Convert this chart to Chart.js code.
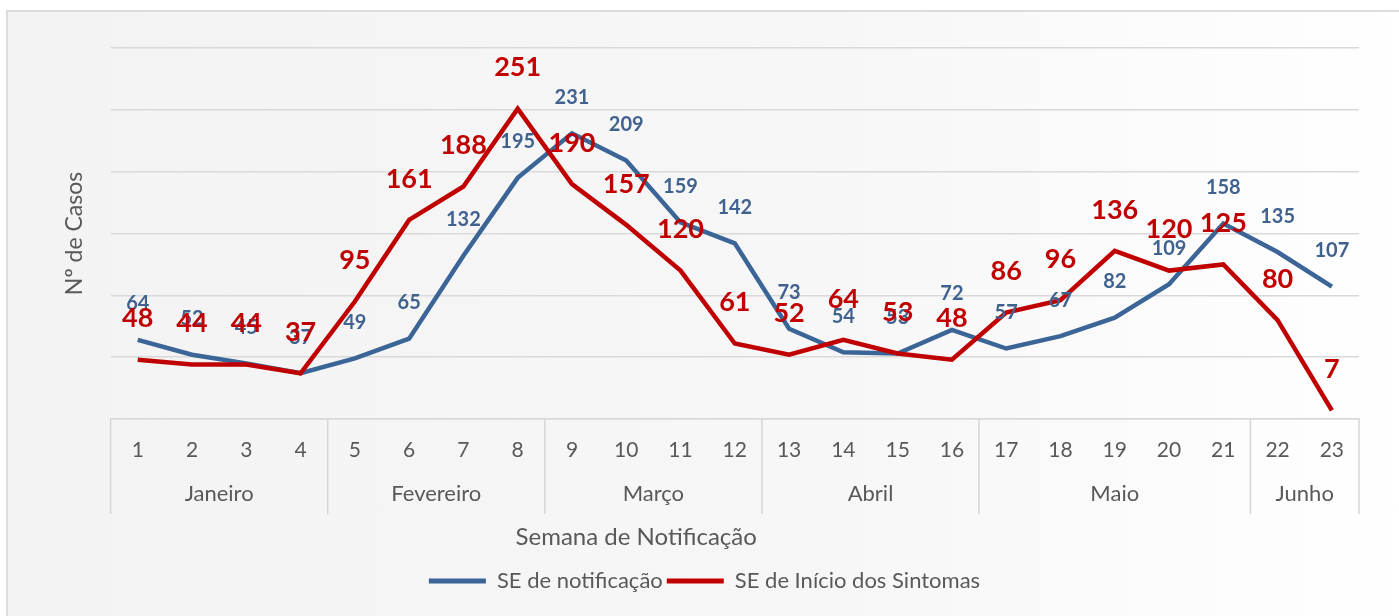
<!DOCTYPE html>
<html>
<head>
<meta charset="utf-8">
<script src="https://cdn.jsdelivr.net/npm/chart.js@4"></script>
<style>
  body { margin: 0; background: #fff; overflow: hidden; }
  #box {
    position: absolute; left: 6px; top: 10px; width: 1400px; height: 610px;
    background: linear-gradient(to right, #f3f3f3, #f7f7f7 60%, #ffffff);
    border-top: 2px solid #dcdcdc; border-left: 2px solid #dcdcdc;
  }
  #wrap { position: absolute; left: 0; top: 0; width: 1399px; height: 616px; }
</style>
</head>
<body>
<div id="box"></div>
<div id="wrap"><canvas id="casosChart" width="1399" height="616"></canvas></div>
<script>
// semanas epidemiológicas e meses
const weeks = ["1", "2", "3", "4", "5", "6", "7", "8", "9", "10", "11", "12",
               "13", "14", "15", "16", "17", "18", "19", "20", "21", "22", "23"];
const months = ["Janeiro", "Fevereiro", "Março", "Abril", "Maio", "Junho"];
const weeksPerMonth = [4, 4, 4, 4, 5, 2];

// séries
const seNotificacao = [64, 52, 45, 37, 49, 65, 132, 195, 231, 209, 159, 142,
                       73, 54, 53, 72, 57, 67, 82, 109, 158, 135, 107];
const seInicioSintomas = [48, 44, 44, 37, 95, 161, 188, 251, 190, 157, 120, 61,
                          52, 64, 53, 48, 86, 96, 136, 120, 125, 80, 7];

const BLUE = "#3b6497";
const BLUE_TXT = "#40628f";
const RED = "#c00000";
const GREY = "#595959";
const FONT = "Lato";

// rótulos de dados acima de cada ponto
const valueLabels = {
    id: "valueLabels",
    afterDatasetsDraw(chart) {
        const ctx = chart.ctx;
        const styles = [
            { font: "bold 20px " + FONT, color: BLUE_TXT, offset: 36 },
            { font: "bold 27px " + FONT, color: RED, offset: 41 }
        ];
        [0, 1].forEach(i => {
            const meta = chart.getDatasetMeta(i);
            const ds = chart.data.datasets[i];
            ctx.save();
            ctx.font = styles[i].font;
            ctx.fillStyle = styles[i].color;
            ctx.textAlign = "center";
            ctx.textBaseline = "middle";
            meta.data.forEach((pt, j) => {
                ctx.fillText(ds.data[j], pt.x, pt.y - styles[i].offset);
            });
            ctx.restore();
        });
    }
};

// linha de meses e título do eixo x
const monthAxis = {
    id: "monthAxis",
    afterDraw(chart) {
        const ctx = chart.ctx;
        const x = chart.scales.x;
        const area = chart.chartArea;
        const top = x.top;
        let edges = [area.left];
        let idx = 0;
        weeksPerMonth.forEach((n, k) => {
            idx += n;
            if (k < weeksPerMonth.length - 1) {
                edges.push((x.getPixelForValue(idx - 1) + x.getPixelForValue(idx)) / 2);
            } else {
                edges.push(area.right);
            }
        });
        ctx.save();
        ctx.strokeStyle = "#d6d6d6";
        ctx.lineWidth = 1.5;
        edges.forEach(ex => {
            ctx.beginPath();
            ctx.moveTo(ex, top);
            ctx.lineTo(ex, top + 95);
            ctx.stroke();
        });
        ctx.font = "22px " + FONT;
        ctx.fillStyle = GREY;
        ctx.textAlign = "center";
        ctx.textBaseline = "middle";
        months.forEach((m, k) => {
            ctx.fillText(m, (edges[k] + edges[k + 1]) / 2, top + 75);
        });
        ctx.font = "24px " + FONT;
        ctx.fillText("Semana de Notificação", area.left + (area.right - area.left) * 0.421, top + 118);
        ctx.restore();
    }
};

const ctx = document.getElementById("casosChart").getContext("2d");

new Chart(ctx, {
    type: "line",
    data: {
        labels: weeks,
        datasets: [
            {
                label: "SE de notificação",
                data: seNotificacao,
                borderColor: BLUE,
                backgroundColor: BLUE,
                borderWidth: 4.5,
                pointRadius: 0,
                tension: 0,
                order: 1
            },
            {
                label: "SE de Início dos Sintomas",
                data: seInicioSintomas,
                borderColor: RED,
                backgroundColor: RED,
                borderWidth: 4.5,
                pointRadius: 0,
                tension: 0,
                order: 0
            }
        ]
    },
    options: {
        responsive: false,
        animation: false,
        layout: {
            padding: { left: 50, right: 40, top: 48, bottom: 14 }
        },
        plugins: {
            tooltip: { enabled: false },
            legend: {
                position: "bottom",
                labels: {
                    color: GREY,
                    font: { family: FONT, size: 22 },
                    boxWidth: 57,
                    boxHeight: 5,
                    padding: 4,
                    sort: (a, b) => a.datasetIndex - b.datasetIndex,
                    generateLabels(chart) {
                        const items = Chart.defaults.plugins.legend.labels.generateLabels(chart);
                        items.forEach(it => { it.lineWidth = 0; });
                        return items;
                    }
                }
            }
        },
        scales: {
            x: {
                offset: true,
                grid: { display: false, drawTicks: false },
                border: { display: true, color: "#d9d9d9", width: 1.5 },
                ticks: {
                    color: GREY,
                    font: { family: FONT, size: 21 },
                    padding: 19,
                    maxRotation: 0,
                    autoSkip: false
                },
                afterFit(scale) { scale.height = 147; }
            },
            y: {
                min: 0,
                max: 300,
                grid: { color: "#d9d9d9", lineWidth: 1.5, drawTicks: false },
                border: { display: false },
                ticks: { display: false, stepSize: 50 },
                title: {
                    display: true,
                    text: "Nº de Casos",
                    color: GREY,
                    font: { family: FONT, size: 23 },
                    padding: { top: 11, bottom: 22 }
                }
            }
        }
    },
    plugins: [valueLabels, monthAxis]
});
</script>
</body>
</html>
